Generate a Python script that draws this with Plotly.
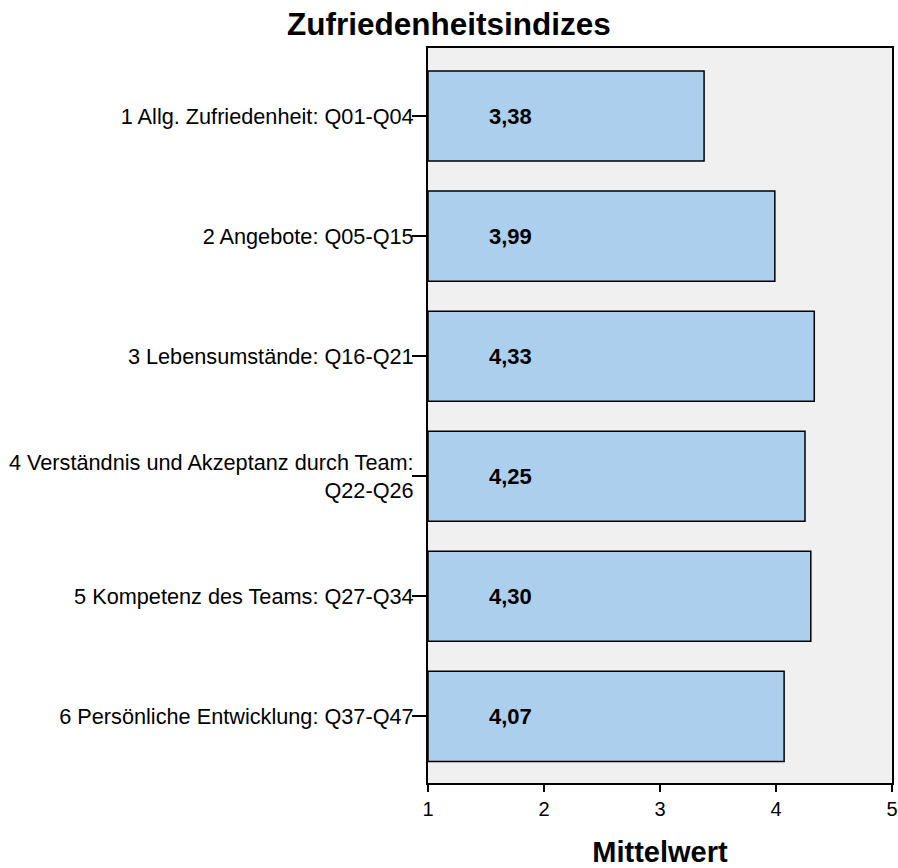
import plotly.graph_objects as go

# Zufriedenheitsindizes - Mittelwerte
categories = [
    "1 Allg. Zufriedenheit: Q01-Q04",
    "2 Angebote: Q05-Q15",
    "3 Lebensumstände: Q16-Q21",
    "4 Verständnis und Akzeptanz durch Team:<br>Q22-Q26",
    "5 Kompetenz des Teams: Q27-Q34",
    "6 Persönliche Entwicklung: Q37-Q47",
]
means = [3.38, 3.99, 4.33, 4.25, 4.30, 4.07]
x_ticks = [1, 2, 3, 4, 5]
x_start = 1  # bars start at the left end of the scale

font = "Liberation Sans, Arial, sans-serif"

fig = go.Figure()
fig.add_bar(
    x=[m - x_start for m in means],
    y=categories,
    base=x_start,
    orientation="h",
    width=0.75,
    marker=dict(color="#accfee", line=dict(color="black", width=1.5)),
    hoverinfo="y",
)

# value labels inside the bars
for cat, m in zip(categories, means):
    fig.add_annotation(
        x=1.71, y=cat, xref="x", yref="y",
        text="<b>{}</b>".format(("%.2f" % m).replace(".", ",")),
        showarrow=False,
        font=dict(family=font, size=22, color="black"),
    )

fig.update_layout(
    width=898, height=868,
    margin=dict(l=428, r=6, t=48, b=85),
    paper_bgcolor="white",
    plot_bgcolor="#f0f0f0",
    showlegend=False,
    font=dict(family=font, color="black"),
    title=dict(
        text="<b>Zufriedenheitsindizes</b>",
        x=0.5, xanchor="center",
        y=1 - 24 / 868, yanchor="middle", yref="container",
        font=dict(family=font, size=31.5, color="black"),
    ),
)
fig.update_xaxes(
    range=[1, 5],
    tickvals=x_ticks,
    automargin=False,
    ticks="outside", ticklen=7, tickwidth=2, tickcolor="black",
    tickfont=dict(size=20),
    showline=True, linecolor="black", linewidth=2, mirror=True,
    showgrid=False, zeroline=False,
    title=dict(text="<b>Mittelwert</b>", font=dict(size=29), standoff=25),
)
fig.update_yaxes(
    type="category",
    categoryorder="array", categoryarray=categories,
    range=[5.555, -0.567],
    automargin=False,
    ticks="outside", ticklen=14, tickwidth=2, tickcolor="black",
    tickfont=dict(size=21.7),
    showline=True, linecolor="black", linewidth=2, mirror=True,
    showgrid=False, zeroline=False,
)
try:
    fig.update_yaxes(ticklabelstandoff=-6)
except Exception:
    pass

# drop the default 8px body margin so the figure fills the window exactly
fig.write_html(
    "out.html",
    config={"displayModeBar": False},
    post_script="document.body.style.margin='0px';",
)
